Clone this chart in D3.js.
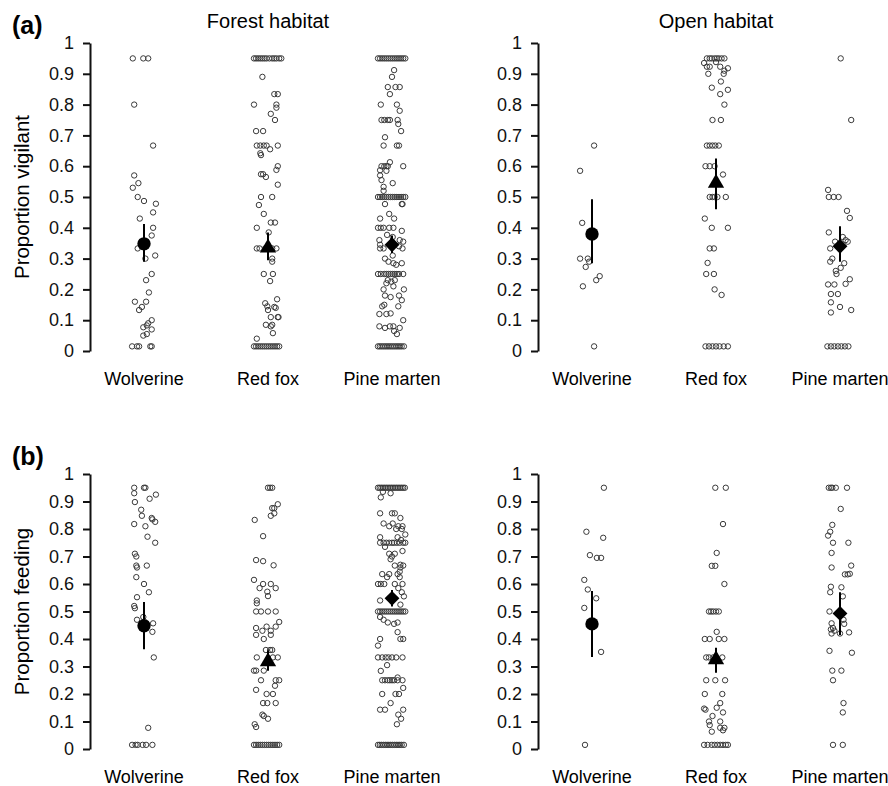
<!DOCTYPE html>
<html>
<head>
<meta charset="utf-8">
<script src="https://cdn.jsdelivr.net/npm/d3@7"></script>
<style>
  body { margin: 0; background: #fff; }
  svg { display: block; font-family: "Liberation Sans", Arial, sans-serif; }
</style>
</head>
<body>
<svg id="chart" width="888" height="786"></svg>
<script>
// categories
var species = ["Wolverine", "Red fox", "Pine marten"]
var habitats = ["Forest habitat", "Open habitat"]
var yTicks = [0, 0.1, 0.2, 0.3, 0.4, 0.5, 0.6, 0.7, 0.8, 0.9, 1]

// observations: [proportion, horizontal jitter (-1..1)]
var vigForestWolverine = [[0.95,-0.8],[0.95,-0.05],[0.95,0.3],[0.8,-0.7],[0.667,0.65],[0.57,-0.7],[0.545,-0.4],[0.53,-0.8],[0.5,-0.45],[0.487,0],[0.478,0.85],[0.45,0.65],[0.43,-0.3],[0.4,0.65],[0.375,0.55],[0.333,-0.45],[0.3,0.1],[0.31,0.8],[0.25,0.55],[0.23,0.15],[0.19,0.35],[0.16,-0.65],[0.16,0.15],[0.143,-0.15],[0.133,-0.35],[0.1,0.55],[0.09,0.3],[0.083,0.2],[0.077,-0.05],[0.07,0.55],[0.055,0.2],[0.05,-0.05],[0.015,-0.85],[0.015,-0.5],[0.015,-0.35],[0.015,0.45],[0.015,0.55]]

var vigForestFox = [[0.95,-1],[0.95,-0.85],[0.95,-0.7],[0.95,-0.55],[0.95,-0.4],[0.95,-0.25],[0.95,-0.1],[0.95,0.1],[0.95,0.3],[0.95,0.45],[0.95,0.6],[0.95,0.8],[0.95,0.95],[0.89,-0.4],[0.834,0.45],[0.834,0.7],[0.8,-1],[0.8,0.6],[0.79,0.6],[0.77,0.2],[0.75,0.5],[0.714,-0.85],[0.714,-0.35],[0.667,-0.8],[0.667,-0.55],[0.667,-0.3],[0.667,-0.1],[0.667,0.7],[0.655,0.15],[0.642,-0.55],[0.636,-0.5],[0.6,0.7],[0.588,0.6],[0.574,-0.5],[0.574,-0.35],[0.565,-0.15],[0.54,0.7],[0.5,-0.5],[0.5,0.3],[0.474,-0.65],[0.445,-0.3],[0.417,0.2],[0.417,0.5],[0.4,-0.8],[0.385,0.05],[0.333,-0.8],[0.333,-0.6],[0.333,-0.2],[0.333,0.3],[0.333,0.6],[0.3,0.3],[0.29,0.3],[0.25,-0.3],[0.25,0.35],[0.227,0.15],[0.168,0.65],[0.155,-0.2],[0.145,-0.05],[0.14,0.55],[0.143,0.45],[0.133,0],[0.11,0.2],[0.11,0.7],[0.11,0.75],[0.085,-0.15],[0.08,0.2],[0.085,0.3],[0.058,0.35],[0.04,-0.8],[0.015,-1],[0.015,-0.85],[0.015,-0.7],[0.015,-0.55],[0.015,-0.4],[0.015,-0.25],[0.015,-0.1],[0.015,0.05],[0.015,0.2],[0.015,0.35],[0.015,0.5],[0.015,0.65],[0.015,0.8]]

var vigForestMarten = [[0.95,-1],[0.95,-0.85],[0.95,-0.7],[0.95,-0.55],[0.95,-0.4],[0.95,-0.25],[0.95,-0.1],[0.95,0.05],[0.95,0.2],[0.95,0.35],[0.95,0.5],[0.95,0.65],[0.95,0.8],[0.95,0.95],[0.912,0.15],[0.89,0],[0.857,-0.3],[0.857,0.25],[0.857,0.55],[0.834,-0.15],[0.8,-0.8],[0.8,0.35],[0.78,0.55],[0.75,-0.75],[0.75,-0.55],[0.75,-0.3],[0.75,-0.15],[0.75,0.4],[0.737,0.45],[0.714,0.65],[0.694,-0.5],[0.667,-0.6],[0.667,0.35],[0.667,0.5],[0.613,-0.15],[0.6,-0.75],[0.6,-0.55],[0.6,-0.4],[0.6,-0.3],[0.6,0.8],[0.587,-0.85],[0.585,-0.4],[0.57,-0.85],[0.555,-0.75],[0.545,0.05],[0.533,-0.6],[0.52,-0.6],[0.5,-1],[0.5,-0.85],[0.5,-0.7],[0.5,-0.55],[0.5,-0.4],[0.5,-0.25],[0.5,-0.1],[0.5,0.05],[0.5,0.2],[0.5,0.35],[0.5,0.5],[0.5,0.65],[0.5,0.8],[0.5,0.95],[0.477,-0.5],[0.477,0.7],[0.477,0.75],[0.445,-0.2],[0.43,-0.85],[0.43,0.15],[0.4,-1],[0.4,-0.8],[0.4,-0.6],[0.4,-0.2],[0.4,0.1],[0.39,0.7],[0.377,-0.35],[0.37,0.05],[0.36,-0.9],[0.36,0.55],[0.355,0.8],[0.345,-0.85],[0.34,0.5],[0.333,-0.85],[0.333,-0.6],[0.333,0.75],[0.31,0.05],[0.3,-0.5],[0.29,-0.25],[0.285,0.1],[0.28,0.3],[0.285,0.7],[0.25,-1],[0.25,-0.8],[0.25,-0.55],[0.25,-0.4],[0.25,-0.25],[0.25,-0.1],[0.25,0.05],[0.25,0.2],[0.25,0.35],[0.25,0.5],[0.25,0.8],[0.23,-0.3],[0.225,-0.05],[0.23,0.2],[0.22,-0.4],[0.21,0.1],[0.2,-0.6],[0.2,0.85],[0.18,-0.5],[0.175,-0.1],[0.18,0.5],[0.165,0.7],[0.145,-0.7],[0.15,-0.55],[0.145,0.45],[0.12,-0.9],[0.12,-0.4],[0.122,-0.1],[0.1,0.8],[0.08,-0.9],[0.075,-0.5],[0.08,-0.15],[0.08,0.1],[0.075,0.55],[0.065,0.15],[0.055,0.35],[0.015,-1],[0.015,-0.87],[0.015,-0.74],[0.015,-0.61],[0.015,-0.48],[0.015,-0.35],[0.015,-0.22],[0.015,-0.09],[0.015,0.04],[0.015,0.17],[0.015,0.3],[0.015,0.43],[0.015,0.56],[0.015,0.69],[0.015,0.85]]

var vigOpenWolverine = [[0.667,0.15],[0.585,-0.85],[0.416,-0.7],[0.3,-0.85],[0.3,-0.3],[0.29,-0.2],[0.273,-0.45],[0.243,0.55],[0.23,0.3],[0.21,-0.65],[0.015,0.15]]

var vigOpenFox = [[0.95,-0.65],[0.95,-0.45],[0.95,-0.3],[0.95,-0.1],[0.95,0.05],[0.95,0.2],[0.95,0.4],[0.95,0.6],[0.935,-0.85],[0.923,-0.65],[0.923,-0.45],[0.938,0],[0.923,0.3],[0.918,0.85],[0.91,0.6],[0.9,-0.55],[0.9,0.55],[0.875,0.35],[0.855,-0.3],[0.848,0.85],[0.834,0.3],[0.8,0.6],[0.75,-0.25],[0.75,0.35],[0.667,-0.65],[0.667,-0.45],[0.667,-0.25],[0.667,-0.05],[0.667,0.2],[0.6,-0.75],[0.6,-0.45],[0.6,-0.1],[0.573,0.5],[0.5,-0.45],[0.5,-0.25],[0.5,-0.1],[0.5,0.1],[0.5,0.7],[0.43,-0.8],[0.4,-0.3],[0.4,0.85],[0.333,-0.45],[0.333,-0.15],[0.286,-0.6],[0.25,-0.7],[0.25,-0.15],[0.2,-0.1],[0.182,0.4],[0.015,-0.75],[0.015,-0.5],[0.015,-0.25],[0.015,0],[0.015,0.25],[0.015,0.55],[0.015,0.85]]

var vigOpenMarten = [[0.95,0.05],[0.75,0.8],[0.523,-0.85],[0.5,-0.8],[0.5,-0.45],[0.5,-0.1],[0.455,0.5],[0.432,0.7],[0.385,-0.8],[0.37,0.2],[0.36,0.4],[0.355,-0.35],[0.355,0.55],[0.333,-0.7],[0.3,-0.55],[0.29,-0.7],[0.285,0.3],[0.27,0.05],[0.26,-0.3],[0.25,-0.25],[0.233,0.7],[0.216,-0.85],[0.216,-0.4],[0.218,0.4],[0.185,-0.65],[0.185,-0.15],[0.158,-0.65],[0.143,0],[0.133,0.8],[0.125,-0.65],[0.015,-0.9],[0.015,-0.65],[0.015,-0.4],[0.015,-0.15],[0.015,0.1],[0.015,0.35],[0.015,0.6]]

var feedForestWolverine = [[0.95,-0.7],[0.95,0],[0.95,0.1],[0.93,-0.7],[0.925,0.85],[0.91,0.4],[0.898,-0.65],[0.87,-0.2],[0.848,-0.15],[0.84,0.55],[0.835,0.6],[0.826,0.8],[0.818,-0.7],[0.81,0.1],[0.772,0.25],[0.75,0.8],[0.71,-0.65],[0.7,-0.55],[0.667,-0.55],[0.66,-0.5],[0.667,0.2],[0.625,-0.55],[0.6,0],[0.57,0.35],[0.552,-0.5],[0.52,-0.7],[0.512,-0.65],[0.48,-0.05],[0.47,-0.5],[0.457,0.65],[0.426,0.6],[0.333,0.7],[0.077,0.3],[0.015,-0.85],[0.015,-0.6],[0.015,-0.45],[0.015,-0.1],[0.015,0.15],[0.015,0.6]]

var feedForestFox = [[0.95,0],[0.95,0.15],[0.95,0.3],[0.89,0.7],[0.876,0.3],[0.876,0.45],[0.857,0.45],[0.848,0.2],[0.833,-0.95],[0.774,-0.35],[0.687,-0.85],[0.683,-0.35],[0.668,0.4],[0.615,-1],[0.6,-0.35],[0.6,0.2],[0.585,-0.6],[0.585,0.55],[0.572,-0.05],[0.556,0],[0.54,-0.8],[0.53,-0.8],[0.5,-0.85],[0.5,-0.5],[0.5,0],[0.5,0.55],[0.462,0.8],[0.44,-0.85],[0.43,-0.4],[0.445,-0.1],[0.43,0.2],[0.445,0.55],[0.415,-0.85],[0.415,0.2],[0.4,-0.3],[0.36,-0.15],[0.36,0.15],[0.36,0.3],[0.333,-0.8],[0.333,0.35],[0.333,0.7],[0.285,-1],[0.285,-0.85],[0.285,-0.3],[0.25,-0.5],[0.25,0.55],[0.25,0.8],[0.23,0.5],[0.215,-0.85],[0.2,-0.1],[0.2,0.35],[0.167,-0.35],[0.167,-0.05],[0.167,0.55],[0.125,-0.4],[0.12,-0.3],[0.11,0],[0.09,-0.95],[0.08,-0.85],[0.015,-1],[0.015,-0.85],[0.015,-0.7],[0.015,-0.55],[0.015,-0.4],[0.015,-0.25],[0.015,-0.1],[0.015,0.05],[0.015,0.2],[0.015,0.35],[0.015,0.5],[0.015,0.65],[0.015,0.8]]

var feedForestMarten = [[0.95,-1],[0.95,-0.88],[0.95,-0.76],[0.95,-0.64],[0.95,-0.52],[0.95,-0.4],[0.95,-0.28],[0.95,-0.16],[0.95,-0.04],[0.95,0.08],[0.95,0.2],[0.95,0.32],[0.95,0.44],[0.95,0.56],[0.95,0.68],[0.95,0.8],[0.95,0.92],[0.935,-0.65],[0.93,-0.1],[0.915,-0.8],[0.857,-0.85],[0.857,0],[0.857,0.2],[0.84,0.6],[0.82,-0.6],[0.82,0.05],[0.81,-0.2],[0.81,0.45],[0.81,0.75],[0.8,0.3],[0.8,0.7],[0.78,0.95],[0.77,-0.85],[0.77,0.4],[0.76,0.65],[0.75,-0.85],[0.75,-0.6],[0.75,-0.4],[0.75,-0.2],[0.75,0],[0.75,0.15],[0.75,0.35],[0.75,0.55],[0.75,0.8],[0.75,0.95],[0.735,-0.5],[0.72,0.75],[0.71,-0.2],[0.71,0.2],[0.7,0],[0.69,-0.1],[0.67,0.6],[0.667,0.2],[0.667,0.8],[0.66,0.6],[0.645,0.55],[0.636,-0.7],[0.636,-0.2],[0.636,0.4],[0.625,-0.35],[0.625,0.55],[0.6,-1],[0.6,-0.8],[0.6,-0.55],[0.6,0.2],[0.6,0.75],[0.585,0.45],[0.57,0.7],[0.555,0.85],[0.54,-0.85],[0.525,0.6],[0.5,-1],[0.5,-0.85],[0.5,-0.7],[0.5,-0.55],[0.5,-0.4],[0.5,-0.25],[0.5,-0.1],[0.5,0.05],[0.5,0.2],[0.5,0.35],[0.5,0.5],[0.5,0.65],[0.5,0.8],[0.5,0.95],[0.48,-0.85],[0.47,-0.6],[0.46,-0.3],[0.455,0.15],[0.46,0.4],[0.425,0.4],[0.4,0.6],[0.4,0.8],[0.4,-0.85],[0.376,-1],[0.333,-1],[0.333,-0.7],[0.333,-0.45],[0.333,-0.25],[0.333,0],[0.333,0.3],[0.333,0.75],[0.305,-0.35],[0.284,-0.8],[0.26,0.4],[0.25,-0.7],[0.25,-0.5],[0.25,-0.3],[0.25,-0.15],[0.25,0],[0.25,0.15],[0.25,0.4],[0.25,0.75],[0.222,0.8],[0.2,-0.7],[0.2,0.25],[0.2,0.5],[0.167,-0.1],[0.143,-0.85],[0.143,-0.5],[0.143,0.8],[0.125,0.45],[0.11,0.65],[0.09,0.35],[0.015,-1],[0.015,-0.87],[0.015,-0.74],[0.015,-0.61],[0.015,-0.48],[0.015,-0.35],[0.015,-0.22],[0.015,-0.09],[0.015,0.04],[0.015,0.17],[0.015,0.3],[0.015,0.43],[0.015,0.56],[0.015,0.69],[0.015,0.85]]

var feedOpenWolverine = [[0.95,0.85],[0.79,-0.4],[0.768,0.8],[0.705,-0.15],[0.695,0.35],[0.695,0.65],[0.615,-0.55],[0.58,-0.3],[0.548,0.3],[0.513,-0.55],[0.353,0.65],[0.015,-0.5]]

var feedOpenFox = [[0.95,-0.05],[0.95,0.7],[0.818,0.5],[0.713,0.05],[0.666,-0.3],[0.666,-0.05],[0.6,0.6],[0.5,-0.5],[0.5,-0.35],[0.5,-0.2],[0.5,0],[0.5,0.2],[0.426,0.05],[0.4,-0.8],[0.4,-0.45],[0.4,0.2],[0.4,0.6],[0.333,-0.7],[0.333,-0.5],[0.333,-0.2],[0.333,0.45],[0.25,-0.7],[0.25,-0.05],[0.25,0.65],[0.2,-0.8],[0.2,0.45],[0.167,0.3],[0.15,0.05],[0.147,-0.85],[0.143,-0.75],[0.133,0.5],[0.12,-0.25],[0.1,-0.5],[0.1,0.3],[0.087,-0.45],[0.077,0.3],[0.077,0.6],[0.063,-0.3],[0.068,0.5],[0.015,-0.85],[0.015,-0.6],[0.015,-0.3],[0.015,-0.1],[0.015,0.1],[0.015,0.3],[0.015,0.5],[0.015,0.7],[0.015,0.85]]

var feedOpenMarten = [[0.95,-0.8],[0.95,-0.65],[0.95,-0.55],[0.95,-0.3],[0.95,0.5],[0.873,0.05],[0.815,-0.55],[0.79,-0.7],[0.776,-0.85],[0.75,-0.5],[0.75,0.6],[0.713,-0.6],[0.66,-0.6],[0.667,0.8],[0.635,0.35],[0.635,0.55],[0.637,0.7],[0.59,-0.65],[0.588,0.1],[0.57,-0.7],[0.555,0.2],[0.5,-0.75],[0.47,0.25],[0.455,0.3],[0.457,-0.6],[0.44,-0.5],[0.435,-0.65],[0.43,-0.4],[0.42,-0.6],[0.42,0],[0.424,0.65],[0.357,-0.75],[0.35,0.85],[0.285,-0.55],[0.285,0.1],[0.25,-0.5],[0.167,0.25],[0.133,0.2],[0.015,-0.5],[0.015,0.2]]

// group means with 95% CI: [mean, lower, upper], per species
var vigForestMean = [[0.348, 0.29, 0.412], [0.335, 0.295, 0.385], [0.345, 0.318, 0.375]]
var vigOpenMean = [[0.38, 0.285, 0.493], [0.545, 0.46, 0.625], [0.34, 0.29, 0.405]]
var feedForestMean = [[0.448, 0.363, 0.535], [0.318, 0.285, 0.358], [0.548, 0.518, 0.578]]
var feedOpenMean = [[0.455, 0.335, 0.575], [0.325, 0.277, 0.368], [0.493, 0.415, 0.57]]

var svg = d3.select("#chart")

var panels = [
    { label: "(a)", yTitle: "Proportion vigilant", top: 43, bottom: 351,
      habitats: [
          { points: [vigForestWolverine, vigForestFox, vigForestMarten], means: vigForestMean },
          { points: [vigOpenWolverine, vigOpenFox, vigOpenMarten], means: vigOpenMean }
      ] },
    { label: "(b)", yTitle: "Proportion feeding", top: 474, bottom: 749,
      habitats: [
          { points: [feedForestWolverine, feedForestFox, feedForestMarten], means: feedForestMean },
          { points: [feedOpenWolverine, feedOpenFox, feedOpenMarten], means: feedOpenMean }
      ] }
]

var axisX = [90, 538]
var jitter = d3.scaleLinear().domain([-1, 1]).range([-14, 14])
var symbols = [d3.symbolCircle, d3.symbolTriangle, d3.symbolSquare]
var symbolSizes = [140, 115, 110]

panels.forEach((panel, pi) => {
    var y = d3.scaleLinear().domain([0, 1]).range([panel.bottom, panel.top])

    svg.append("text")
        .attr("x", 12)
        .attr("y", panel.top - 9)
        .style("font-size", "25px")
        .style("font-weight", "bold")
        .text(panel.label)

    svg.append("text")
        .attr("transform", `translate(29,${(panel.top + panel.bottom) / 2}) rotate(-90)`)
        .attr("text-anchor", "middle")
        .style("font-size", "20.5px")
        .text(panel.yTitle)

    panel.habitats.forEach((hab, hi) => {
        var x = d3.scalePoint().domain(species).range([axisX[hi] + 54, axisX[hi] + 302])
        var g = svg.append("g")

        // y axis
        var axis = g.append("g")
            .attr("transform", `translate(${axisX[hi]},0)`)
            .call(d3.axisLeft(y).tickValues(yTicks).tickSize(7).tickSizeOuter(0).tickPadding(9)
                .tickFormat(d3.format("~f")))
        axis.select(".domain").attr("stroke", "#111").attr("stroke-width", 2)
        axis.selectAll(".tick line").attr("stroke", "#111").attr("stroke-width", 2)
        axis.selectAll("text")
            .attr("fill", "#111")
            .style("font-size", "18px")
            .style("font-family", "'Liberation Sans', Arial, sans-serif")

        // panel title
        if (pi == 0) {
            g.append("text")
                .attr("x", (x(species[0]) + x(species[2])) / 2)
                .attr("y", 28)
                .attr("text-anchor", "middle")
                .style("font-size", "20px")
                .text(habitats[hi])
        }

        // category labels
        g.selectAll(".cat")
            .data(species)
            .join("text")
            .attr("x", d => x(d))
            .attr("y", panel.bottom + 34)
            .attr("text-anchor", "middle")
            .style("font-size", "18px")
            .text(d => d)

        // raw observations
        species.forEach((sp, si) => {
            g.append("g")
                .selectAll("circle")
                .data(hab.points[si])
                .join("circle")
                .attr("cx", d => x(sp) + jitter(d[1]))
                .attr("cy", d => y(d[0]))
                .attr("r", 2.7)
                .attr("fill", "none")
                .attr("stroke", "#3a3a3a")
                .attr("stroke-width", 1)
        })

        // means with CI
        g.selectAll(".ci")
            .data(hab.means)
            .join("line")
            .attr("x1", (d, i) => x(species[i]))
            .attr("x2", (d, i) => x(species[i]))
            .attr("y1", d => y(d[1]))
            .attr("y2", d => y(d[2]))
            .attr("stroke", "#000")
            .attr("stroke-width", 2)

        g.selectAll(".mean")
            .data(hab.means)
            .join("path")
            .attr("d", (d, i) => d3.symbol().type(symbols[i]).size(symbolSizes[i])())
            .attr("transform", (d, i) => `translate(${x(species[i])},${y(d[0])})` + (i == 2 ? " rotate(45)" : ""))
            .attr("fill", "#000")
    })
})
</script>
</body>
</html>
